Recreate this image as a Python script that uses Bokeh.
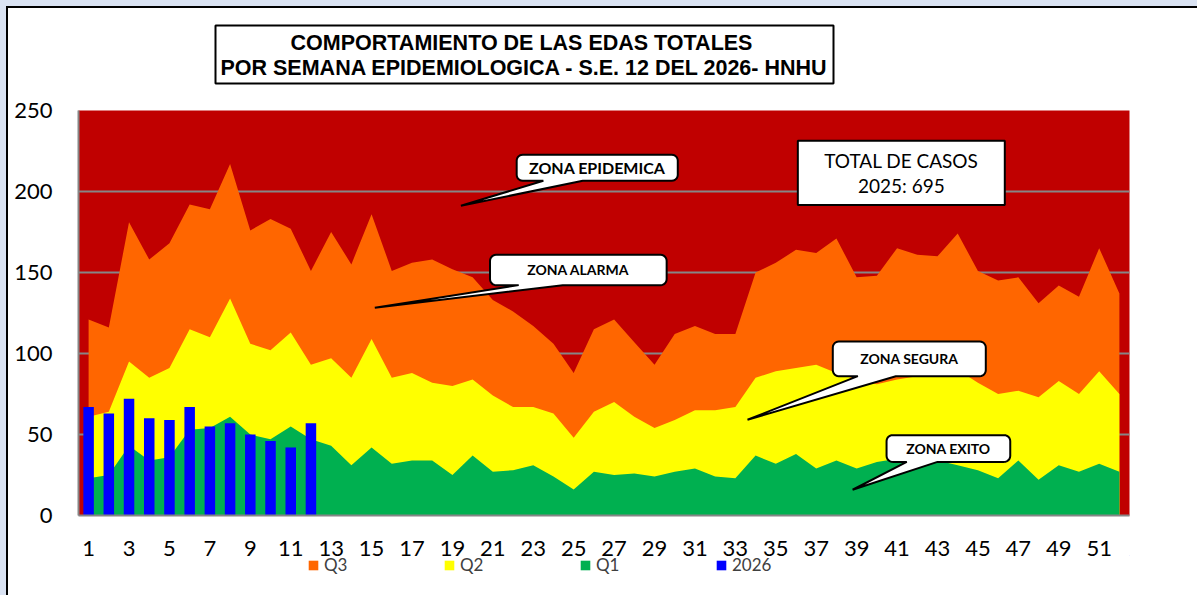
import math
from bokeh.plotting import figure
from bokeh.layouts import column
from bokeh.models import ColumnDataSource, FixedTicker, Legend, LegendItem
from bokeh.embed import file_html
from bokeh.resources import INLINE
from bokeh.core.properties import value

# ---------------- data ----------------
weeks = list(range(1, 53))
q3 = [121, 116, 181, 158, 168, 192, 189, 217, 176, 183, 177, 151, 175, 155, 186, 151,
      156, 158, 152, 147, 133, 126, 117, 106, 88, 115, 121, 107, 93, 112, 117, 112,
      112, 150, 156, 164, 162, 171, 147, 148, 165, 161, 160, 174, 151, 145, 147, 131,
      142, 135, 165, 137]
q2 = [61, 64, 95, 85, 91, 115, 110, 134, 106, 102, 113, 93, 97, 85, 109, 85,
      88, 82, 80, 84, 74, 67, 67, 63, 48, 64, 70, 61, 54, 59, 65, 65,
      67, 85, 89, 91, 93, 88, 84, 81, 84, 86, 87, 90, 82, 75, 77, 73,
      83, 75, 89, 75]
q1 = [23, 25, 43, 34, 36, 53, 54, 61, 50, 47, 55, 47, 43, 31, 42, 32,
      34, 34, 25, 37, 27, 28, 31, 24, 16, 27, 25, 26, 24, 27, 29, 24,
      23, 37, 32, 38, 29, 34, 29, 33, 35, 36, 34, 31, 28, 23, 34, 22,
      31, 27, 32, 27]
weeks_2026 = list(range(1, 13))
cases_2026 = [67, 63, 72, 60, 59, 67, 55, 57, 50, 46, 42, 57]
x_ticks = list(range(1, 52, 2))
y_ticks = [0, 50, 100, 150, 200, 250]
series_names = ["Q3", "Q2", "Q1", "2026"]
title_lines = ["COMPORTAMIENTO DE LAS EDAS  TOTALES",
               "POR SEMANA EPIDEMIOLOGICA - S.E. 12 DEL 2026- HNHU"]
total_lines = ["TOTAL DE CASOS", "2025: 695"]

# ---------------- layout ----------------
W = 1197
TITLE_H = 85
MAIN_H = 483
LEG_H = 40
LEG_OVERLAP = 13
ML, MT = 78, 25
FRAME_R, FRAME_B = 1129, 430          # within the main figure
MR, MB = W - FRAME_R, MAIN_H - FRAME_B
FW, FH = W - ML - MR, MAIN_H - MT - MB
X0, X1 = 0.5, 52.5
Y0, Y1 = 0, 250
PX = FW / (X1 - X0)
PY = FH / (Y1 - Y0)

RED, ORANGE, YELLOW, GREEN, BLUE = "#C00000", "#FF6600", "#FFFF00", "#00B050", "#0000FF"
GRID = "#868686"
FONT = "Lato"

# ---------------- title strip (frame aligned with the chart frame) ----------------
pt = figure(width=W, height=TITLE_H, x_range=(ML, FRAME_R), y_range=(TITLE_H, 0),
            x_axis_type=None, y_axis_type=None, output_backend="svg",
            toolbar_location=None, min_border=0)
pt.outline_line_color = None
pt.grid.visible = False
pt.background_fill_alpha = 0
pt.border_fill_alpha = 0
pt.quad(left=[215], right=[833], top=[25], bottom=[83], fill_color="white",
        line_color="black", line_width=2)
pt.text(x=[524, 524], y=[42, 67], text=title_lines, text_align="center",
        text_baseline="middle", text_font=value("Liberation Sans"),
        text_font_style="bold", text_font_size="21.5px", text_color="black")

# ---------------- main chart ----------------
p = figure(width=W, height=MAIN_H, x_range=(X0, X1), y_range=(Y0, Y1),
           output_backend="svg", toolbar_location=None,
           min_border_left=ML, min_border_right=MR, min_border_top=MT, min_border_bottom=MB)
p.background_fill_color = RED
p.border_fill_alpha = 0
p.outline_line_color = None

p.xgrid.grid_line_color = None
p.ygrid.grid_line_color = GRID
p.ygrid.grid_line_width = 2

for ax in (p.xaxis[0], p.yaxis[0]):
    ax.axis_line_color = GRID
    ax.axis_line_width = 2
    ax.major_tick_in = 0
    ax.major_tick_out = 0
    ax.minor_tick_in = 0
    ax.minor_tick_out = 0
    ax.major_label_text_font = FONT
    ax.major_label_text_font_size = "22px"
    ax.major_label_text_color = "black"
p.xaxis[0].ticker = FixedTicker(ticks=x_ticks)
p.yaxis[0].ticker = FixedTicker(ticks=y_ticks)
p.xaxis[0].major_label_standoff = 25
p.yaxis[0].major_label_standoff = 26
p.ygrid.ticker = FixedTicker(ticks=y_ticks)

src = ColumnDataSource(dict(week=weeks, q3=q3, q2=q2, q1=q1))
src26 = ColumnDataSource(dict(week=weeks_2026, cases=cases_2026))

p.varea(x="week", y1=0, y2="q3", source=src, fill_color=ORANGE)
p.varea(x="week", y1=0, y2="q2", source=src, fill_color=YELLOW)
p.varea(x="week", y1=0, y2="q1", source=src, fill_color=GREEN)
p.vbar(x="week", top="cases", width=0.52, source=src26, fill_color=BLUE, line_color=None)


def callout(left, right, top, bottom, base_a, base_b, tip_x, tip_y, r=6):
    L, R = (left - X0) * PX, (right - X0) * PX
    T, B = top * PY, bottom * PY
    ba, bb = (base_a - X0) * PX, (base_b - X0) * PX
    tx, ty = (tip_x - X0) * PX, tip_y * PY
    pts = []

    def arc(cx, cy, a0, a1, n=6):
        for k in range(n + 1):
            a = math.radians(a0 + (a1 - a0) * k / n)
            pts.append((cx + r * math.cos(a), cy + r * math.sin(a)))

    pts.append((L + r, T))
    arc(R - r, T - r, 90, 0)
    arc(R - r, B + r, 0, -90)
    pts += [(bb, B), (tx, ty), (ba, B)]
    arc(L + r, B + r, -90, -180)
    arc(L + r, T - r, 180, 90)
    xs = [u / PX + X0 for u, v in pts]
    ys = [v / PY for u, v in pts]
    p.patch(xs, ys, fill_color="white", line_color="black", line_width=2)


callouts = [
    # text, left, right, top, bottom, base_a, base_b, tip_x, tip_y, size
    ("ZONA EPIDEMICA", 22.18, 30.15, 222.7, 206.6, 23.5, 25.45, 19.42, 191.2, "16px"),
    ("ZONA ALARMA", 20.86, 29.6, 160.9, 142.2, 22.28, 24.46, 15.16, 128.2, "14px"),
    ("ZONA SEGURA", 37.82, 45.39, 107.4, 86.0, 39.06, 40.94, 33.6, 59.1, "14px"),
    ("ZONA EXITO", 40.48, 46.6, 49.6, 33.1, 41.48, 43.0, 38.8, 15.9, "14px"),
]
for txt, l, rr, t, b, ba, bb, tx, ty, fs in callouts:
    callout(l, rr, t, b, ba, bb, tx, ty)
    p.text(x=[(l + rr) / 2], y=[(t + b) / 2], text=[txt], text_align="center",
           text_baseline="middle", text_font=value(FONT), text_font_style="bold",
           text_font_size=fs, text_color="black")

p.quad(left=[36.09], right=[46.33], top=[231.3], bottom=[191.6],
       fill_color="white", line_color="black", line_width=2)
p.text(x=[41.21, 41.21], y=[218.9, 203.5], text=total_lines, text_align="center",
       text_baseline="middle", text_font=value(FONT), text_font_size="19px",
       text_color="black")

# ---------------- legend strip ----------------
pl = figure(width=W, height=LEG_H, x_range=(0, 1), y_range=(0, 1),
            x_axis_type=None, y_axis_type=None, output_backend="svg",
            toolbar_location=None, min_border=0)
pl.outline_line_color = None
pl.grid.visible = False
pl.background_fill_alpha = 0
pl.border_fill_alpha = 0
pl.styles = {"margin-top": f"-{LEG_OVERLAP}px"}
# swatch carriers placed outside the strip's visible range
lr3 = pl.varea(x=[5, 6], y1=[5, 5], y2=[6, 6], fill_color=ORANGE)
lr2 = pl.varea(x=[5, 6], y1=[5, 5], y2=[6, 6], fill_color=YELLOW)
lr1 = pl.varea(x=[5, 6], y1=[5, 5], y2=[6, 6], fill_color=GREEN)
lrb = pl.vbar(x=[5], bottom=[5], top=[6], width=0.5, fill_color=BLUE, line_color=None)
legend = Legend(items=[LegendItem(label=series_names[0], renderers=[lr3]),
                       LegendItem(label=series_names[1], renderers=[lr2]),
                       LegendItem(label=series_names[2], renderers=[lr1]),
                       LegendItem(label=series_names[3], renderers=[lrb])],
                location=(307 - ML, LEG_H - 20), orientation="horizontal", spacing=0,
                glyph_width=12, glyph_height=12, label_standoff=5, label_width=119,
                padding=0, margin=0, border_line_color=None, background_fill_alpha=0,
                label_text_font=FONT, label_text_font_size="17px",
                label_text_color="#404040")
pl.add_layout(legend, "center")

# chart-area edge: light band then a thin dark line along the left and top
layout = column(pt, p, pl, spacing=0,
                styles={"background-color": "white",
                        "box-shadow": "inset 6px 6px 0 0 #DAE3F3, inset 8px 8px 0 0 #000000"})
open("out.html", "w").write(file_html(layout, INLINE))
